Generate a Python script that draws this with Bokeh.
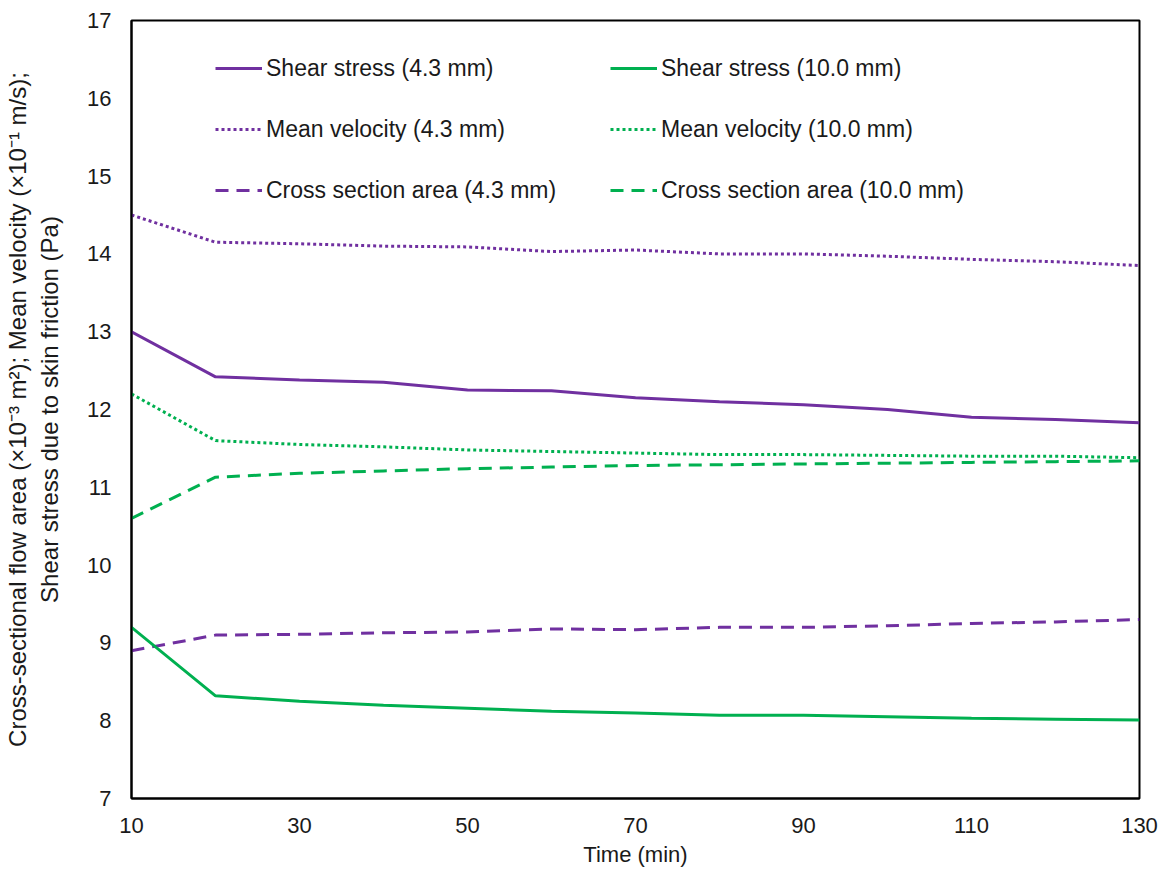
from bokeh.plotting import figure
from bokeh.models import Legend, LegendItem, FixedTicker, Range1d
from bokeh.embed import file_html
from bokeh.resources import INLINE

time_min = [10, 20, 30, 40, 50, 60, 70, 80, 90, 100, 110, 120, 130]

shear_43 = [13.0, 12.42, 12.38, 12.35, 12.25, 12.24, 12.15, 12.10, 12.06, 12.00, 11.90, 11.87, 11.83]
vel_43 = [14.5, 14.15, 14.13, 14.10, 14.09, 14.03, 14.05, 14.00, 14.00, 13.97, 13.93, 13.90, 13.85]
area_43 = [8.9, 9.10, 9.11, 9.13, 9.14, 9.18, 9.17, 9.20, 9.20, 9.22, 9.25, 9.27, 9.30]

shear_100 = [9.2, 8.32, 8.25, 8.20, 8.16, 8.12, 8.10, 8.07, 8.07, 8.05, 8.03, 8.02, 8.01]
vel_100 = [12.2, 11.60, 11.55, 11.52, 11.48, 11.46, 11.44, 11.42, 11.42, 11.41, 11.40, 11.40, 11.38]
area_100 = [10.6, 11.13, 11.18, 11.21, 11.24, 11.26, 11.28, 11.29, 11.30, 11.31, 11.32, 11.33, 11.34]

x_ticks = [10, 30, 50, 70, 90, 110, 130]
y_ticks = [7, 8, 9, 10, 11, 12, 13, 14, 15, 16, 17]

PURPLE = "#7030A0"
GREEN = "#00B050"
FONT = "Liberation Sans"
TXT = "#1a1a1a"

p = figure(width=1163, height=871, output_backend="svg", toolbar_location=None,
           x_range=Range1d(10, 130), y_range=Range1d(7, 17),
           min_border_left=131, min_border_right=24, min_border_top=20, min_border_bottom=73)
p.grid.visible = False
p.outline_line_color = "black"
p.outline_line_width = 2
p.background_fill_color = "white"
p.border_fill_color = "white"

for ax in (p.xaxis, p.yaxis):
    ax.axis_line_color = "black"
    ax.axis_line_width = 2
    ax.major_tick_line_color = None
    ax.minor_tick_line_color = None
    ax.major_label_text_font = FONT
    ax.major_label_text_font_size = "22px"
    ax.major_label_text_color = TXT
    ax.axis_label_text_font = FONT
    ax.axis_label_text_font_size = "22px"
    ax.axis_label_text_font_style = "normal"
    ax.axis_label_text_color = TXT

p.yaxis.axis_label_text_font_size = "24px"
p.xaxis.ticker = FixedTicker(ticks=x_ticks)
p.yaxis.ticker = FixedTicker(ticks=y_ticks)
p.xaxis.major_label_standoff = 13
p.yaxis.major_label_standoff = 14
p.xaxis.axis_label = "Time (min)"
p.xaxis.axis_label_standoff = 6
p.yaxis.axis_label = ("Cross-sectional flow area (\u00d710\u207b\u00b3 m\u00b2); Mean velocity (\u00d710\u207b\u00b9 m/s);\n"
                      "Shear stress due to skin friction (Pa)")
p.yaxis.axis_label_standoff = 21

DOT = "3 3"
DASH = "13 8"
W = 3

r1 = p.line(time_min, shear_43, line_color=PURPLE, line_width=W)
r2 = p.line(time_min, vel_43, line_color=PURPLE, line_width=W, line_dash=DOT)
r3 = p.line(time_min, area_43, line_color=PURPLE, line_width=W, line_dash=DASH)
r4 = p.line(time_min, shear_100, line_color=GREEN, line_width=W)
r5 = p.line(time_min, vel_100, line_color=GREEN, line_width=W, line_dash=DOT)
r6 = p.line(time_min, area_100, line_color=GREEN, line_width=W, line_dash=DASH)


def make_legend(items, x, y):
    lg = Legend(items=items, location=(x, y), orientation="vertical")
    lg.border_line_color = None
    lg.background_fill_alpha = 0
    lg.padding = 0
    lg.margin = 0
    lg.glyph_width = 47
    lg.glyph_height = 30
    lg.label_standoff = 4
    lg.spacing = 31
    lg.label_text_font = FONT
    lg.label_text_font_size = "23px"
    lg.label_text_color = TXT
    return lg


leg1 = make_legend([
    LegendItem(label="Shear stress (4.3 mm)", renderers=[r1]),
    LegendItem(label="Mean velocity (4.3 mm)", renderers=[r2]),
    LegendItem(label="Cross section area (4.3 mm)", renderers=[r3]),
], 84, 593)
leg2 = make_legend([
    LegendItem(label="Shear stress (10.0 mm)", renderers=[r4]),
    LegendItem(label="Mean velocity (10.0 mm)", renderers=[r5]),
    LegendItem(label="Cross section area (10.0 mm)", renderers=[r6]),
], 479, 593)
p.add_layout(leg1)
p.add_layout(leg2)

open("out.html", "w").write(file_html(p, INLINE))
